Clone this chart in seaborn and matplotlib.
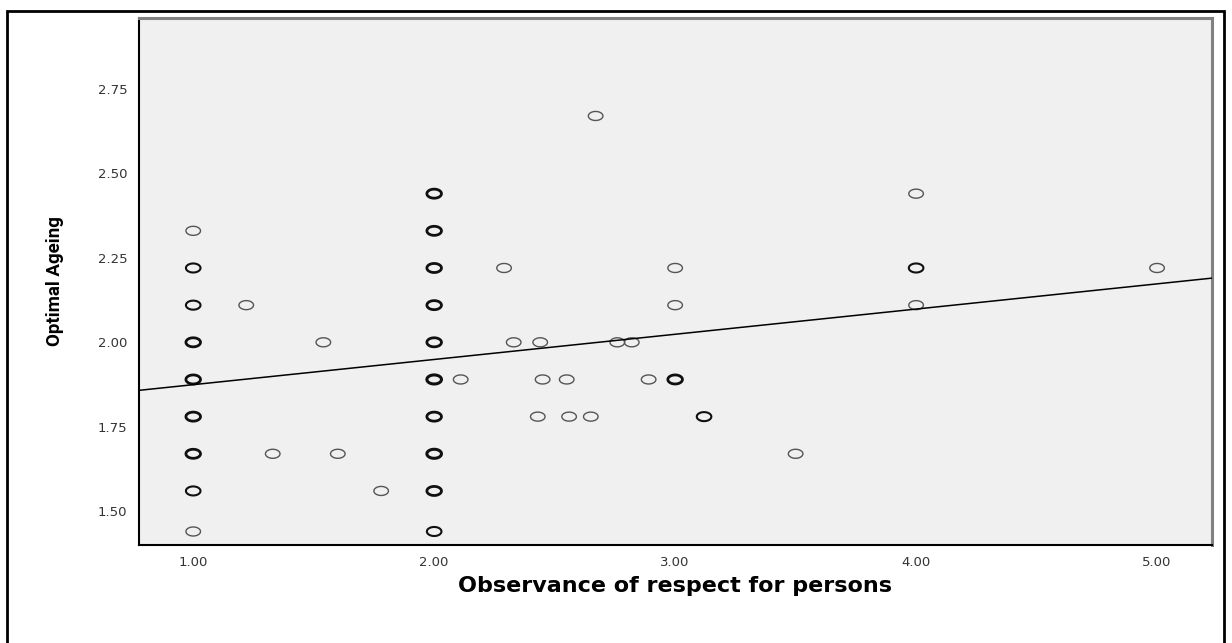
import numpy as np
import pandas as pd
import matplotlib
matplotlib.use("Agg")
import matplotlib.pyplot as plt
from matplotlib.path import Path
from matplotlib.patches import Rectangle
import seaborn as sns

# ---------- data ----------
# x = observance of respect for persons, y = optimal ageing, n = overlapping cases
x_obs = [1.00, 1.00, 1.00, 1.00, 1.00, 1.00, 1.00, 1.00, 1.00,
         2.00, 2.00, 2.00, 2.00, 2.00, 2.00, 2.00, 2.00, 2.00, 2.00,
         1.22, 1.54, 1.33, 1.60, 1.78,
         2.11, 2.29, 2.33, 2.44, 2.45, 2.55, 2.43, 2.56, 2.65, 2.67,
         2.76, 2.82, 2.89,
         3.00, 3.00, 3.00, 3.12, 3.50,
         4.00, 4.00, 4.00, 5.00]
y_opt = [2.33, 2.22, 2.11, 2.00, 1.89, 1.78, 1.67, 1.56, 1.44,
         2.44, 2.33, 2.22, 2.11, 2.00, 1.89, 1.78, 1.67, 1.56, 1.44,
         2.11, 2.00, 1.67, 1.67, 1.56,
         1.89, 2.22, 2.00, 2.00, 1.89, 1.89, 1.78, 1.78, 1.78, 2.67,
         2.00, 2.00, 1.89,
         2.22, 2.11, 1.89, 1.78, 1.67,
         2.44, 2.22, 2.11, 2.22]
n_dup = [1, 2, 2, 3, 3, 3, 3, 2, 1,
         3, 3, 3, 3, 3, 4, 3, 4, 3, 2,
         1, 1, 1, 1, 1,
         1, 1, 1, 1, 1, 1, 1, 1, 1, 1,
         1, 1, 1,
         1, 1, 3, 2, 1,
         1, 2, 1, 1]

# linear fit line shown on the chart
fit_intercept = 1.80
fit_slope = 0.0746

x_ticks = [1.00, 2.00, 3.00, 4.00, 5.00]
y_ticks = [1.50, 1.75, 2.00, 2.25, 2.50, 2.75]
XLIM = (0.775, 5.228)
YLIM = (1.40, 2.96)

df = pd.DataFrame({"x": x_obs, "y": y_opt, "n": n_dup})

# ---------- style ----------
sns.set_theme(style="white")
plt.rcParams["font.family"] = ["DejaVu Sans"]

fig = plt.figure(figsize=(12.32, 6.43), dpi=100)
ax = fig.add_axes([139 / 1232, 1 - 545 / 643, (1212 - 139) / 1232, (545 - 18) / 643])
ax.set_facecolor("#f0f0f0")

# ellipse marker like SPSS open circles
t = np.linspace(0, 2 * np.pi, 60)
ell = Path(np.column_stack([np.cos(t), 0.62 * np.sin(t)]), closed=True)

lw_map = {1: 1.0, 2: 1.5, 3: 2.0, 4: 2.2}
for n, sub in df.groupby("n"):
    col = "#555555" if n == 1 else "#101010"
    sns.scatterplot(data=sub, x="x", y="y", ax=ax, marker=ell, s=110,
                    facecolor="none", edgecolor=col, linewidth=lw_map[n],
                    legend=False, zorder=3)

fit_x = np.array(XLIM)
fit_df = pd.DataFrame({"x": fit_x, "y": fit_intercept + fit_slope * fit_x})
sns.lineplot(data=fit_df, x="x", y="y", ax=ax, color="black", lw=1.1, zorder=4)

ax.set_xlim(*XLIM)
ax.set_ylim(*YLIM)
ax.set_xticks(x_ticks)
ax.set_xticklabels([f"{v:.2f}" for v in x_ticks])
ax.set_yticks(y_ticks)
ax.set_yticklabels([f"{v:.2f}" for v in y_ticks])
ax.tick_params(axis="both", direction="out", length=5, width=1.6,
               color="#404040", labelsize=9.5, labelcolor="#333333", pad=3)
ax.tick_params(axis="y", length=4.5, width=1.4, pad=4)

for side in ["left", "bottom"]:
    ax.spines[side].set_color("black")
    ax.spines[side].set_linewidth(1.5)
for side in ["top", "right"]:
    ax.spines[side].set_color("#808080")
    ax.spines[side].set_linewidth(2.2)
    ax.spines[side].set_visible(True)

ax.set_xlabel("Observance of respect for persons", fontsize=16,
              fontweight="bold", color="black", labelpad=5)
ax.set_ylabel("Optimal Ageing", fontsize=13.5,
              family=["Roboto", "DejaVu Sans"],
              fontweight="bold", color="black", labelpad=24)

# outer frame around the whole figure
fig.patches.append(Rectangle((7 / 1232, -0.01), (1224 - 7) / 1232, 1 - 11 / 643 + 0.01,
                             transform=fig.transFigure, fill=False,
                             edgecolor="black", linewidth=2))

fig.savefig("out.png", dpi=100, facecolor="white")
